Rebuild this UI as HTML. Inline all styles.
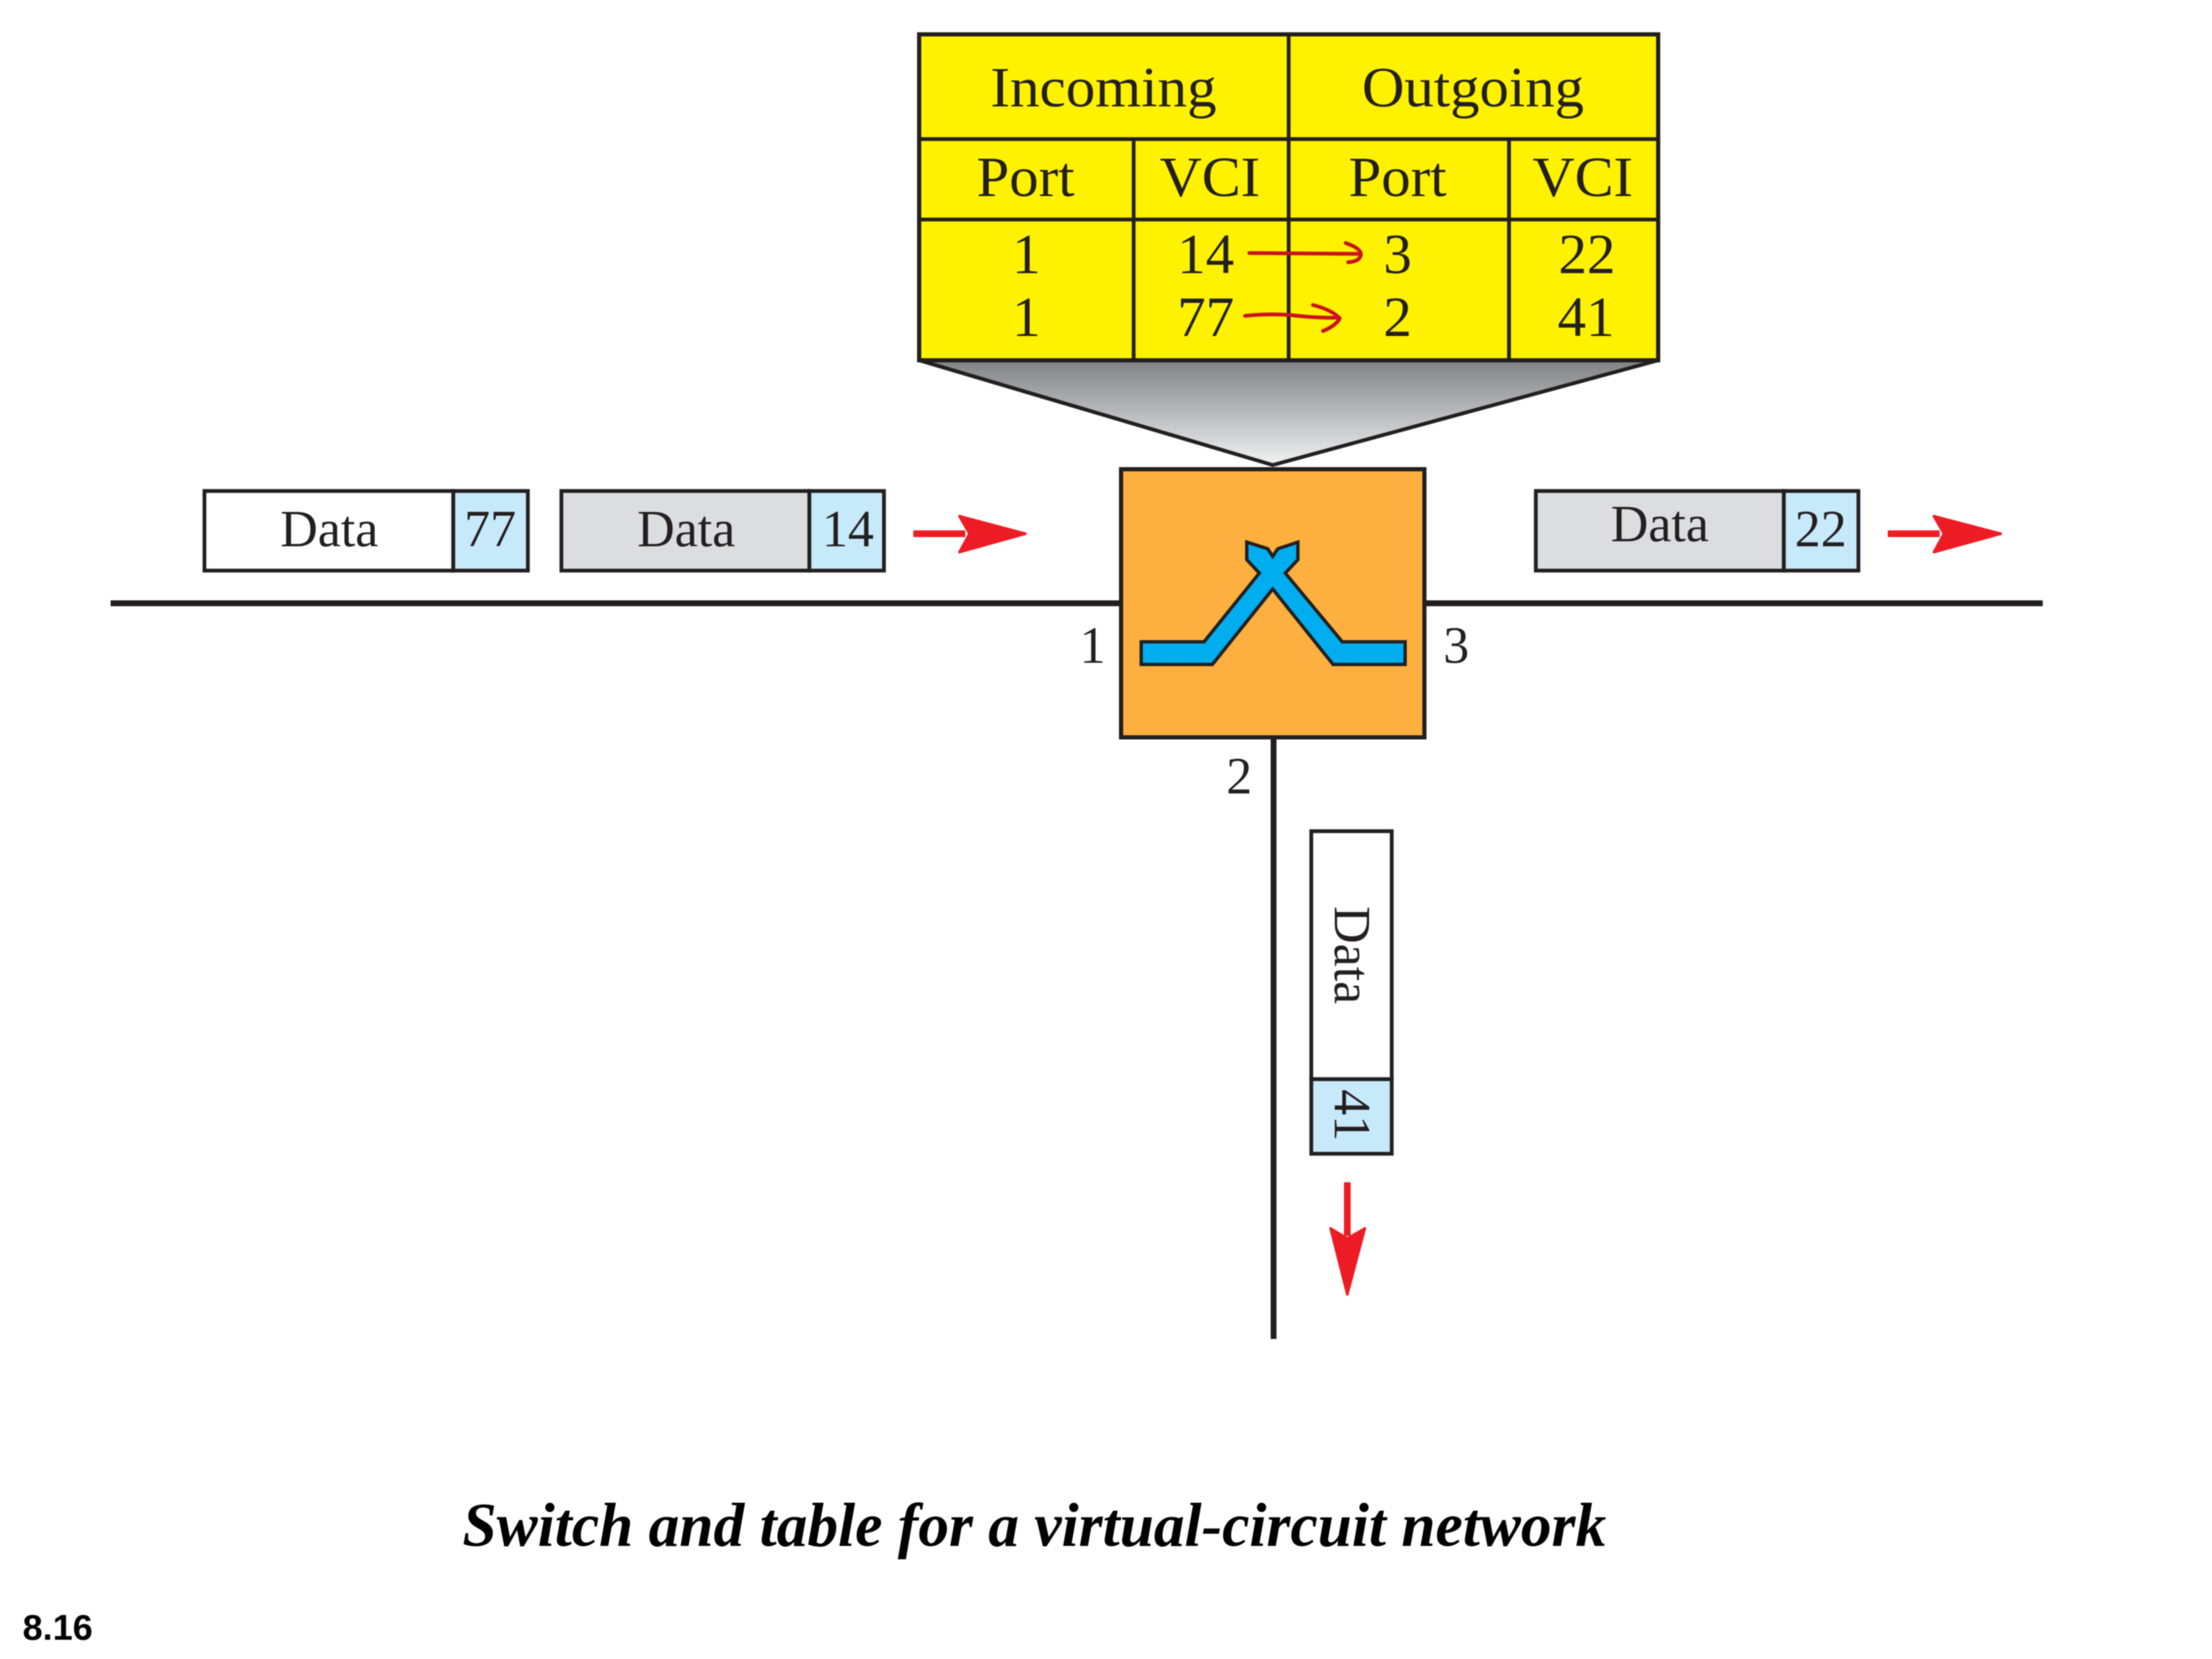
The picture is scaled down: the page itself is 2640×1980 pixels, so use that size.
<!DOCTYPE html>
<html><head><meta charset="utf-8"><style>
html,body{margin:0;padding:0;background:#fff;width:2640px;height:1980px;overflow:hidden}
svg{display:block;filter:blur(0.6px)}
.t{font-family:"Liberation Serif",serif;fill:#231f20;text-anchor:middle}
</style></head><body>
<svg width="2640" height="1980" viewBox="0 0 2640 1980" xmlns="http://www.w3.org/2000/svg">
<defs><linearGradient id="g" x1="0" y1="0" x2="0" y2="1"><stop offset="0" stop-color="#808285"/><stop offset="1" stop-color="#f1f2f2"/></linearGradient></defs>

<!-- lines -->
<g stroke="#231f20" stroke-width="7" fill="none">
<line x1="132" y1="720" x2="1338" y2="720"/>
<line x1="1700" y1="720" x2="2438" y2="720"/>
<line x1="1520" y1="880" x2="1520" y2="1598"/>
</g>

<!-- funnel -->
<polygon points="1097,430 1979,430 1519,555" fill="url(#g)" stroke="#231f20" stroke-width="4.5" stroke-linejoin="round"/>

<!-- table -->
<rect x="1097" y="41" width="882" height="389" fill="#fff200" stroke="#231f20" stroke-width="5"/>
<g stroke="#231f20" stroke-width="4.5" fill="none">
<line x1="1097" y1="166" x2="1979" y2="166"/>
<line x1="1097" y1="262" x2="1979" y2="262"/>
<line x1="1538" y1="41" x2="1538" y2="430"/>
<line x1="1353" y1="166" x2="1353" y2="430"/>
<line x1="1801" y1="166" x2="1801" y2="430"/>
</g>
<g font-size="68">
<text class="t" x="1317" y="127" textLength="270" lengthAdjust="spacingAndGlyphs">Incoming</text>
<text class="t" x="1758" y="127" textLength="265" lengthAdjust="spacingAndGlyphs">Outgoing</text>
<text class="t" x="1224" y="234" textLength="117" lengthAdjust="spacingAndGlyphs">Port</text>
<text class="t" x="1444" y="234" textLength="120" lengthAdjust="spacingAndGlyphs">VCI</text>
<text class="t" x="1668" y="234" textLength="117" lengthAdjust="spacingAndGlyphs">Port</text>
<text class="t" x="1889" y="234" textLength="120" lengthAdjust="spacingAndGlyphs">VCI</text>
<text class="t" x="1225" y="326">1</text>
<text class="t" x="1439" y="326">14</text>
<text class="t" x="1668" y="326">3</text>
<text class="t" x="1894" y="326">22</text>
<text class="t" x="1225" y="401">1</text>
<text class="t" x="1439" y="401">77</text>
<text class="t" x="1668" y="401">2</text>
<text class="t" x="1893" y="401">41</text>
</g>

<!-- small red arrows -->
<g fill="none" stroke="#c8141e" stroke-width="4.5" stroke-linecap="round" stroke-linejoin="round">
<path d="M1491 302 L1623 303"/>
<path d="M1606 290 Q1626 297 1624 305 Q1622 312 1609 313"/>
<path d="M1486 377 Q1510 374 1540 376 Q1575 380 1598 379"/>
<path d="M1567 364 Q1590 370 1599 380 Q1594 389 1579 395"/>
</g>

<!-- switch -->
<rect x="1338" y="560" width="362" height="320" fill="#fdb03f" stroke="#231f20" stroke-width="5"/>
<polygon points="1362,766 1437,766 1503,684 1488,668 1488,647 1513,655 1519,664 1525,655 1549,647 1549,668 1534,684 1602,766 1677,766 1677,793 1591,793 1519,703 1447,793 1362,793" fill="#00aeef" stroke="#231f20" stroke-width="4" stroke-linejoin="miter"/>

<!-- port labels -->
<g font-size="62">
<text class="t" x="1304" y="791">1</text>
<text class="t" x="1738" y="791">3</text>
<text class="t" x="1479" y="947">2</text>
</g>

<!-- packets -->
<g stroke="#231f20" stroke-width="4.5">
<rect x="244" y="586" width="297" height="95" fill="#fff"/>
<rect x="541" y="586" width="89" height="95" fill="#c7eafb"/>
<rect x="670" y="586" width="296" height="95" fill="#dcddde"/>
<rect x="966" y="586" width="89" height="95" fill="#c7eafb"/>
<rect x="1833" y="586" width="296" height="95" fill="#dcddde"/>
<rect x="2129" y="586" width="89" height="95" fill="#c7eafb"/>
<rect x="1565" y="992" width="96" height="296" fill="#fff"/>
<rect x="1565" y="1288" width="96" height="89" fill="#c7eafb"/>
</g>
<g font-size="62">
<text class="t" x="393" y="652">Data</text>
<text class="t" x="585" y="652">77</text>
<text class="t" x="819" y="652">Data</text>
<text class="t" x="1012" y="652">14</text>
<text class="t" x="1981" y="646">Data</text>
<text class="t" x="2173" y="652">22</text>
<text class="t" transform="translate(1593 1140) rotate(90)">Data</text>
<text class="t" transform="translate(1593 1331) rotate(90)">41</text>
</g>

<!-- big red arrows -->
<g fill="#ed1c24" stroke="#ed1c24" stroke-width="3" stroke-linejoin="round">
<g><rect x="1091" y="634" width="60" height="6" stroke-width="2"/><polygon points="1145,616 1224,637 1145,659 1157,637"/></g>
<g><rect x="2254" y="634" width="60" height="6" stroke-width="2"/><polygon points="2308,616 2388,637 2308,659 2320,637"/></g>
<g><rect x="1605" y="1412" width="6" height="62" stroke-width="2"/><polygon points="1588,1466 1608,1478 1629,1466 1608,1545"/></g>
</g>

<!-- caption -->
<text x="552" y="1845" font-family="'Liberation Serif',serif" font-weight="bold" font-style="italic" font-size="74" fill="#000" textLength="1365" lengthAdjust="spacingAndGlyphs">Switch and table for a virtual-circuit network</text>
<text x="27" y="1957" font-family="'Liberation Sans',sans-serif" font-weight="bold" font-size="43" fill="#000">8.16</text>
</svg>
</body></html>
